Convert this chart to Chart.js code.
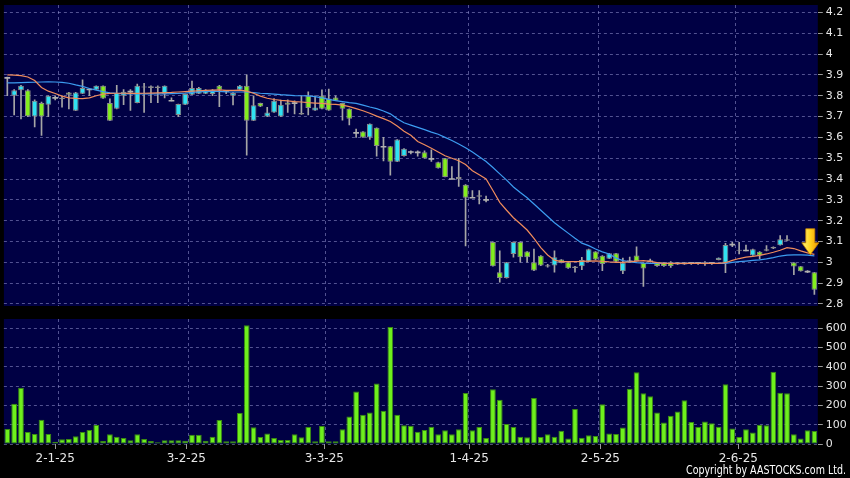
<!DOCTYPE html>
<html>
<head>
<meta charset="utf-8">
<script src="https://cdn.jsdelivr.net/npm/chart.js@4.4.1/dist/chart.umd.min.js"></script>
<style>
html, body { margin: 0; padding: 0; background: #000; }
#wrap { position: relative; width: 850px; height: 478px; overflow: hidden; background: #000; }
#pricechart { position: absolute; left: 0; top: 0; }
#volchart { position: absolute; left: 0; top: 312px; }
#copy { position: absolute; right: 4px; top: 462px; color: #fff; white-space: nowrap;
        font: 13px 'DejaVu Sans Condensed', 'DejaVu Sans', sans-serif; transform-origin: right center; }
</style>
</head>
<body>
<div id="wrap">
  <canvas id="pricechart" width="850" height="312"></canvas>
  <canvas id="volchart" width="850" height="166"></canvas>
  <div id="copy">Copyright by AASTOCKS.com Ltd.</div>
</div>
<script>
// trading days, d-m-yy
const dates = [
  '18-12-24','19-12-24','20-12-24','23-12-24','24-12-24','27-12-24','30-12-24','31-12-24',
  '2-1-25','3-1-25','6-1-25','7-1-25','8-1-25','9-1-25','10-1-25','13-1-25','14-1-25','15-1-25','16-1-25','17-1-25',
  '20-1-25','21-1-25','22-1-25','23-1-25','24-1-25','27-1-25','28-1-25',
  '3-2-25','4-2-25','5-2-25','6-2-25','7-2-25','10-2-25','11-2-25','12-2-25','13-2-25','14-2-25',
  '17-2-25','18-2-25','19-2-25','20-2-25','21-2-25','24-2-25','25-2-25','26-2-25','27-2-25','28-2-25',
  '3-3-25','4-3-25','5-3-25','6-3-25','7-3-25','10-3-25','11-3-25','12-3-25','13-3-25','14-3-25',
  '17-3-25','18-3-25','19-3-25','20-3-25','21-3-25','24-3-25','25-3-25','26-3-25','27-3-25','28-3-25','31-3-25',
  '1-4-25','2-4-25','3-4-25','7-4-25','8-4-25','9-4-25','10-4-25','11-4-25','14-4-25','15-4-25','16-4-25','17-4-25',
  '22-4-25','23-4-25','24-4-25','25-4-25','28-4-25','29-4-25','30-4-25',
  '2-5-25','6-5-25','7-5-25','8-5-25','9-5-25','12-5-25','13-5-25','14-5-25','15-5-25','16-5-25',
  '19-5-25','20-5-25','21-5-25','22-5-25','23-5-25','26-5-25','27-5-25','28-5-25','29-5-25','30-5-25',
  '2-6-25','3-6-25','4-6-25','5-6-25','6-6-25','9-6-25','10-6-25','11-6-25','12-6-25','13-6-25','16-6-25','17-6-25'
];

const opens = [
  3.885,3.80,3.827,3.827,3.70,3.765,3.757,3.79,3.785,3.816,3.728,3.81,3.83,3.829,3.848,3.765,3.737,3.80,3.82,3.765,
  3.84,3.846,3.837,3.808,3.776,3.708,3.757,3.805,3.81,3.81,3.808,3.848,3.824,3.80,3.829,3.848,3.68,3.765,3.70,3.72,
  3.70,3.768,3.765,3.71,3.80,3.729,3.80,3.787,3.792,3.765,3.737,3.622,3.628,3.60,3.646,3.555,3.557,3.483,3.51,3.53,
  3.528,3.529,3.497,3.481,3.50,3.40,3.40,3.373,3.31,3.315,3.30,3.098,2.952,2.924,3.04,3.098,3.052,3.0,3.032,2.98,
  2.984,3.013,3.0,2.972,2.981,3.003,3.052,3.032,3.017,3.043,2.957,3.005,3.033,2.998,3.005,3.0,3.0,3.0,2.995,2.995,
  2.997,2.997,3.0,2.997,3.011,2.998,3.085,3.06,3.058,3.033,3.051,3.055,3.066,3.082,3.111,2.999,2.981,2.955,2.952
];
const highs = [
  3.89,3.83,3.85,3.83,3.78,3.77,3.80,3.80,3.80,3.816,3.816,3.876,3.835,3.848,3.848,3.785,3.85,3.83,3.83,3.856,
  3.86,3.848,3.848,3.848,3.79,3.76,3.808,3.87,3.84,3.83,3.83,3.85,3.826,3.815,3.85,3.90,3.80,3.765,3.745,3.787,
  3.779,3.78,3.776,3.80,3.819,3.80,3.829,3.832,3.80,3.765,3.737,3.64,3.628,3.665,3.646,3.60,3.557,3.59,3.546,3.535,
  3.535,3.535,3.54,3.481,3.50,3.46,3.50,3.373,3.345,3.345,3.318,3.098,3.055,3.0,3.098,3.098,3.052,3.063,3.032,2.99,
  3.055,3.013,3.0,2.98,3.024,3.063,3.052,3.032,3.043,3.043,3.02,3.025,3.074,2.998,3.015,3.0,3.0,3.003,2.998,2.998,
  3.0,3.0,3.003,3.0,3.022,3.091,3.096,3.096,3.083,3.063,3.051,3.08,3.074,3.128,3.128,2.999,2.981,2.96,2.952
];
const lows = [
  3.80,3.708,3.689,3.70,3.65,3.61,3.70,3.78,3.745,3.737,3.728,3.81,3.80,3.829,3.787,3.68,3.737,3.757,3.73,3.765,
  3.72,3.767,3.767,3.79,3.775,3.70,3.757,3.805,3.81,3.81,3.80,3.748,3.81,3.756,3.829,3.515,3.68,3.748,3.70,3.72,
  3.70,3.72,3.713,3.71,3.708,3.729,3.737,3.729,3.776,3.683,3.66,3.60,3.60,3.59,3.51,3.487,3.419,3.483,3.51,3.52,
  3.51,3.50,3.484,3.452,3.41,3.40,3.365,3.079,3.31,3.28,3.29,2.981,2.905,2.924,3.024,3.0,3.0,2.96,2.984,2.976,
  2.952,2.997,2.971,2.952,2.965,3.003,3.013,2.96,3.017,3.0,2.945,3.0,3.006,2.884,3.0,2.98,2.98,2.975,2.99,2.99,
  2.99,2.99,2.985,2.99,3.011,2.95,3.075,3.04,3.055,3.033,3.016,3.055,3.066,3.082,3.103,2.94,2.957,2.95,2.846
];
const closes = [
  3.887,3.827,3.848,3.702,3.776,3.70,3.80,3.79,3.79,3.805,3.816,3.837,3.83,3.848,3.787,3.68,3.813,3.819,3.82,3.848,
  3.845,3.837,3.845,3.848,3.776,3.76,3.808,3.837,3.837,3.825,3.827,3.829,3.822,3.813,3.848,3.68,3.755,3.748,3.72,3.776,
  3.757,3.757,3.765,3.717,3.741,3.744,3.737,3.729,3.776,3.737,3.69,3.622,3.60,3.665,3.559,3.555,3.483,3.59,3.546,3.53,
  3.528,3.50,3.497,3.452,3.41,3.40,3.41,3.31,3.31,3.322,3.30,2.981,2.924,3.0,3.098,3.024,3.024,2.96,2.984,2.986,
  3.024,2.997,2.971,2.98,3.011,3.063,3.013,2.992,3.043,3.002,2.998,3.005,3.006,2.97,3.005,2.982,2.982,2.982,2.995,2.995,
  2.997,2.997,2.99,2.997,3.022,3.083,3.085,3.055,3.055,3.063,3.033,3.063,3.074,3.111,3.103,2.98,2.957,2.955,2.868
];

// moving averages as drawn (orange short, blue long)
const maShort = [
  3.900,3.899,3.897,3.890,3.873,3.840,3.822,3.811,3.798,3.790,3.787,3.786,3.790,3.800,3.808,3.811,3.812,3.812,3.811,3.811,
  3.812,3.813,3.814,3.815,3.816,3.818,3.820,3.822,3.824,3.826,3.827,3.828,3.826,3.826,3.827,3.822,3.812,3.798,3.788,3.782,
  3.778,3.775,3.772,3.770,3.767,3.765,3.763,3.760,3.759,3.755,3.748,3.738,3.728,3.716,3.702,3.690,3.676,3.655,3.630,3.610,
  3.580,3.565,3.548,3.530,3.512,3.500,3.488,3.470,3.440,3.420,3.400,3.345,3.288,3.250,3.214,3.185,3.155,3.115,3.070,3.035,
  3.010,3.003,3.003,3.003,3.004,3.006,3.007,3.005,3.002,3.000,3.000,3.002,3.006,3.008,3.004,2.998,2.995,2.995,2.995,2.995,
  2.995,2.995,2.995,2.995,2.995,2.998,3.009,3.018,3.025,3.028,3.033,3.040,3.048,3.058,3.070,3.066,3.055,3.045,3.038
];
const maLong = [
  3.862,3.862,3.863,3.864,3.865,3.866,3.867,3.866,3.864,3.860,3.852,3.845,3.835,3.827,3.820,3.814,3.811,3.810,3.809,3.809,
  3.809,3.809,3.809,3.809,3.810,3.811,3.813,3.816,3.819,3.821,3.822,3.821,3.819,3.818,3.818,3.818,3.815,3.812,3.810,3.808,
  3.805,3.803,3.801,3.800,3.799,3.796,3.790,3.783,3.777,3.772,3.767,3.763,3.755,3.746,3.738,3.727,3.713,3.690,3.670,3.659,
  3.648,3.637,3.625,3.615,3.600,3.585,3.568,3.550,3.530,3.507,3.484,3.455,3.425,3.395,3.362,3.335,3.310,3.280,3.250,3.220,
  3.190,3.165,3.140,3.115,3.092,3.080,3.064,3.050,3.040,3.020,3.008,3.002,2.998,2.996,2.995,2.995,2.995,2.995,2.995,2.995,
  2.995,2.995,2.995,2.995,2.995,2.995,3.000,3.003,3.006,3.009,3.012,3.016,3.022,3.030,3.034,3.036,3.036,3.034,3.031
];

const volumes = [
  78,209,291,62,52,126,52,12,24,26,40,62,73,99,16,50,38,31,19,50,
  26,16,9,19,19,19,17,48,48,17,38,125,14,14,161,616,87,36,54,31,
  21,21,50,35,88,14,93,14,14,76,142,272,151,163,313,173,606,152,97,95,
  64,73,90,50,71,50,76,265,71,88,31,284,230,104,88,38,35,239,36,50,
  38,69,29,182,33,45,42,206,55,52,86,287,372,263,247,163,112,147,169,227,
  114,88,116,107,90,310,81,36,76,59,100,97,374,266,263,50,29,71,67
];

// yellow arrow marker (bar position and price at its tip)
const arrowAt = 117.4;
const arrowPrice = 3.036;

const PLOT_BG = '#000044';
const GRID = 'rgba(150,150,210,0.55)';
const TEXT = '#e6e6e6';

const monthOf = d => d.split('-')[1];
const monthStarts = dates.map((d, i) => (i > 0 && monthOf(d) !== monthOf(dates[i - 1])) ? i : -1).filter(i => i >= 0);

const isDoji = i => Math.abs(closes[i] - opens[i]) < 0.004;
const bodies = opens.map((o, i) => {
  const c = closes[i];
  if (isDoji(i)) { const m = (o + c) / 2; return [m - 0.004, m + 0.004]; }
  return [Math.min(o, c), Math.max(o, c)];
});
const wicks = lows.map((l, i) => [l, highs[i]]);
const bodyFill = opens.map((o, i) => isDoji(i) ? '#b0b0b0' : (closes[i] > o ? '#30e2f2' : '#84ee1e'));

const plotBg = {
  id: 'plotBg',
  beforeDraw(chart) {
    const { ctx, chartArea: a } = chart;
    ctx.save();
    ctx.fillStyle = PLOT_BG;
    ctx.fillRect(a.left, a.top, a.right - a.left, a.bottom - a.top);
    ctx.restore();
  }
};

const arrowMark = {
  id: 'arrowMark',
  afterDatasetsDraw(chart) {
    const ctx = chart.ctx;
    const x = chart.scales.x.getPixelForValue(arrowAt);
    const y = chart.scales.y.getPixelForValue(arrowPrice);
    const g = ctx.createLinearGradient(x - 8, 0, x + 8, 0);
    g.addColorStop(0, '#fff27a');
    g.addColorStop(0.5, '#ffd21e');
    g.addColorStop(1, '#f09a00');
    ctx.save();
    ctx.beginPath();
    ctx.moveTo(x - 4.5, y - 26);
    ctx.lineTo(x + 4.5, y - 26);
    ctx.lineTo(x + 4.5, y - 12);
    ctx.lineTo(x + 8.5, y - 12);
    ctx.lineTo(x, y);
    ctx.lineTo(x - 8.5, y - 12);
    ctx.lineTo(x - 4.5, y - 12);
    ctx.closePath();
    ctx.fillStyle = g;
    ctx.fill();
    ctx.strokeStyle = '#c88400';
    ctx.lineWidth = 0.8;
    ctx.stroke();
    ctx.restore();
  }
};

const monthGrid = ctx => monthStarts.includes(ctx.index) ? GRID : 'rgba(0,0,0,0)';

function fixRight(s) { s.width = 32.2; s.paddingTop = 0; s.paddingBottom = 0; }

function setupPrice() {
  const ctx = document.getElementById('pricechart').getContext('2d');
  new Chart(ctx, {
    data: {
      labels: dates,
      datasets: [
        { type: 'line', data: maShort, borderColor: '#f08c5c', borderWidth: 1.2, pointRadius: 0, order: 0 },
        { type: 'line', data: maLong, borderColor: '#3c9cf0', borderWidth: 1.2, pointRadius: 0, order: 0 },
        { type: 'bar', data: bodies, backgroundColor: bodyFill,
          borderColor: '#8a8a8a', borderWidth: c => isDoji(c.dataIndex) ? 0 : 1, borderSkipped: false,
          grouped: false, barPercentage: 0.84, categoryPercentage: 1, order: 1 },
        { type: 'bar', data: wicks, backgroundColor: '#a6a6a6', barThickness: 1, grouped: false, order: 2 }
      ]
    },
    options: {
      responsive: false, devicePixelRatio: 1, animation: false,
      layout: { padding: { left: 3.9, top: 5, bottom: 6, right: 0 } },
      plugins: { legend: { display: false }, tooltip: { enabled: false } },
      scales: {
        x: {
          offset: true,
          ticks: { display: false, autoSkip: false },
          grid: { offset: true, drawTicks: false, color: monthGrid },
          border: { display: false, dash: [3, 3] },
          afterFit(s) { s.height = 0; s.paddingLeft = 0; s.paddingRight = 0; }
        },
        y: {
          position: 'right', min: 2.79, max: 4.236,
          ticks: { stepSize: 0.1, includeBounds: false, color: TEXT, padding: 3,
                   font: { family: 'DejaVu Sans', size: 11 },
                   callback: v => String(Math.round(v * 10) / 10) },
          grid: { color: GRID, tickLength: 5, tickColor: '#9a9a9a', tickBorderDash: [] },
          border: { display: false, dash: [3, 3] },
          afterFit: fixRight
        }
      }
    },
    plugins: [plotBg, arrowMark]
  });
}

function setupVolume() {
  const ctx = document.getElementById('volchart').getContext('2d');
  new Chart(ctx, {
    data: {
      labels: dates,
      datasets: [
        { type: 'bar', data: volumes, backgroundColor: '#6ef01c', borderColor: '#3a8a12', borderWidth: 1,
          borderSkipped: false, barPercentage: 0.84, categoryPercentage: 1 }
      ]
    },
    options: {
      responsive: false, devicePixelRatio: 1, animation: false,
      layout: { padding: { left: 3.9, top: 7, bottom: 0, right: 0 } },
      plugins: { legend: { display: false }, tooltip: { enabled: false } },
      scales: {
        x: {
          offset: true,
          ticks: { display: false, autoSkip: false },
          grid: { offset: true, drawTicks: false, color: monthGrid },
          border: { display: false, dash: [3, 3] },
          afterFit(s) { s.height = 0; s.paddingLeft = 0; s.paddingRight = 0; }
        },
        // date labels sit on their own slightly different spacing
        xd: {
          type: 'linear', position: 'bottom', min: 0.565, max: 118.52,
          afterBuildTicks(s) { s.ticks = monthStarts.map(v => ({ value: v })); },
          ticks: { autoSkip: false, maxRotation: 0, color: TEXT, padding: 3,
                   font: { family: 'DejaVu Sans', size: 12 },
                   callback: v => dates[v] },
          grid: { drawOnChartArea: false, tickLength: 5, color: '#9a9a9a', tickBorderDash: [] },
          border: { display: false },
          afterFit(s) { s.height = 34; s.paddingLeft = 0; s.paddingRight = 0; }
        },
        y: {
          position: 'right', min: 0, max: 648,
          ticks: { stepSize: 100, includeBounds: false, color: TEXT, padding: 3,
                   font: { family: 'DejaVu Sans', size: 11 } },
          grid: { color: GRID, tickLength: 5, tickColor: '#9a9a9a', tickBorderDash: [] },
          border: { display: false, dash: [3, 3] },
          afterFit: fixRight
        }
      }
    },
    plugins: [plotBg]
  });
}

document.addEventListener('DOMContentLoaded', () => {
  setupPrice();
  setupVolume();
  // the copyright line is set in a narrow face, about 160px wide
  const copy = document.getElementById('copy');
  const w = copy.getBoundingClientRect().width;
  copy.style.transform = 'scaleX(' + (160 / w).toFixed(3) + ')';
});
</script>
</body>
</html>
